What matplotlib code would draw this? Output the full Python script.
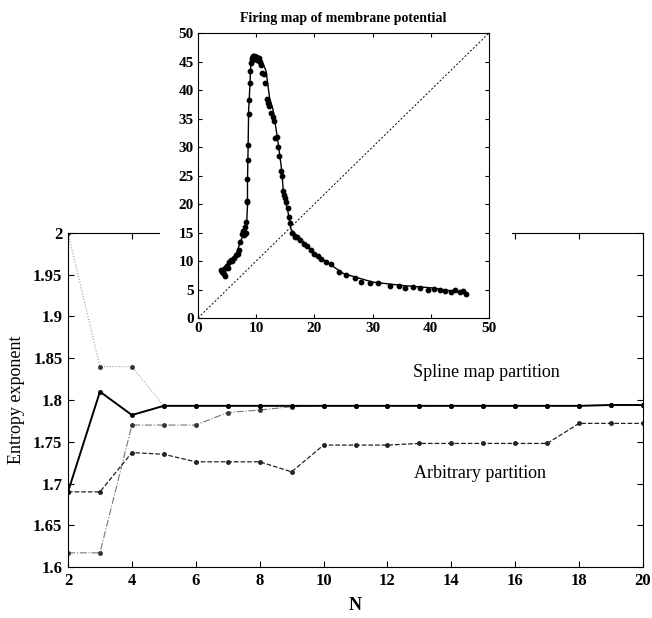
import numpy as np
import matplotlib.pyplot as plt
from matplotlib.patches import Rectangle

plt.rcParams['font.family'] = ['Liberation Serif', 'DejaVu Serif']

# main panel: entropy exponent vs N
n_values = list(range(2, 21))
spline_solid = [1.690, 1.810, 1.782, 1.793, 1.793, 1.793, 1.793, 1.793, 1.793, 1.793,
                1.793, 1.793, 1.793, 1.793, 1.793, 1.793, 1.793, 1.794, 1.794]
spline_dotted = [2.000, 1.840, 1.840, 1.793, 1.793, 1.793, 1.793, 1.793, 1.793, 1.793,
                 1.793, 1.793, 1.793, 1.793, 1.793, 1.793, 1.793, 1.794, 1.794]
spline_dashdot = [1.617, 1.617, 1.770, 1.770, 1.770, 1.785, 1.788, 1.792, 1.793, 1.793,
                  1.793, 1.793, 1.793, 1.793, 1.793, 1.793, 1.793, 1.794, 1.794]
arbitrary = [1.690, 1.690, 1.737, 1.735, 1.726, 1.726, 1.726, 1.714, 1.746, 1.746,
             1.746, 1.748, 1.748, 1.748, 1.748, 1.748, 1.772, 1.772, 1.772]
y_ticks = [1.6, 1.65, 1.7, 1.75, 1.8, 1.85, 1.9, 1.95, 2.0]
y_tick_labels = ['1.6', '1.65', '1.7', '1.75', '1.8', '1.85', '1.9', '1.95', '2']
x_ticks = list(range(2, 21, 2))

# inset: firing map, fitted curve and measured points
curve_x = [4.2, 4.9, 6.0, 6.6, 7.4, 8.0, 8.3, 8.5, 8.5, 8.6, 8.7, 8.9, 9.1, 9.5, 10.0,
           10.5, 10.9, 11.7, 12.3, 12.9, 13.6, 14.3, 14.7, 15.5, 16.0, 17.5, 20.0,
           22.0, 25.0, 30.0, 35.2, 40.0, 46.0]
curve_y = [8.2, 9.4, 10.5, 11.4, 13.7, 15.0, 15.5, 19.6, 24.0, 29.5, 36.5, 40.4, 45.2,
           46.0, 46.2, 45.9, 45.3, 43.3, 38.6, 36.5, 31.9, 26.6, 21.9, 18.4, 15.5,
           14.0, 11.4, 9.9, 7.8, 6.3, 5.7, 5.3, 4.4]
pts_x = [4.0, 4.2, 4.4, 4.5, 4.7, 4.8, 5.0, 5.2, 5.4, 5.6, 5.9, 6.2, 6.5, 6.8, 7.0,
         7.3, 7.5, 7.7, 7.9, 8.1, 8.2, 8.3, 8.4, 8.5, 8.5, 8.6, 8.6, 8.7, 8.8, 8.9,
         9.0, 9.1, 9.2, 9.3, 9.4, 9.6, 9.8, 10.0, 10.2, 10.4, 10.6, 10.8, 11.0, 11.3,
         11.5, 11.8, 12.0, 12.2, 12.5, 12.8, 13.0, 13.3, 13.6, 13.8, 14.0, 14.2, 14.4,
         14.6, 14.8, 15.0, 15.2, 15.4, 15.6, 15.8, 16.2, 16.6, 17.0, 17.6, 18.2, 18.8,
         19.4, 20.0, 20.6, 21.2, 22.0, 22.8, 24.2, 25.5, 27.0, 28.0, 29.5, 31.0, 33.0,
         34.5, 35.5, 37.0, 38.2, 39.5, 40.5, 41.6, 42.5, 43.4, 44.2, 45.0, 45.6, 46.0]
pts_y = [8.5, 8.0, 7.8, 8.6, 7.4, 8.9, 9.2, 8.7, 9.8, 10.2, 10.0, 10.6, 11.1, 11.3,
         12.0, 13.3, 14.8, 15.2, 14.6, 15.9, 16.8, 15.0, 20.3, 20.6, 24.4, 27.8, 30.3,
         35.8, 38.2, 41.2, 43.3, 44.8, 45.6, 45.3, 45.9, 46.0, 45.5, 45.8, 45.2, 45.6,
         44.9, 44.3, 43.0, 42.8, 41.3, 38.4, 37.8, 37.2, 36.0, 35.2, 34.6, 31.5, 31.8,
         30.0, 28.4, 25.8, 25.0, 22.2, 21.5, 21.0, 20.4, 19.3, 17.8, 16.6, 14.9, 14.3,
         14.2, 13.7, 13.0, 12.6, 12.0, 11.3, 10.8, 10.4, 9.9, 9.5, 8.0, 7.6, 7.0, 6.4,
         6.2, 6.1, 5.7, 5.6, 5.3, 5.5, 5.2, 5.0, 5.1, 4.9, 4.8, 4.6, 4.9, 4.5, 4.8, 4.3]

fig = plt.figure(figsize=(6.52, 6.18), dpi=100)

ax = fig.add_axes([0.1043, 0.0825, 0.8819, 0.5405])
ax.plot(n_values, spline_dotted, color='#9a9a9a', lw=0.8, ls=':', marker='o', ms=2.5,
        mfc='#333333', mec='#333333')
ax.plot(n_values, spline_dashdot, color='#777777', lw=0.8, ls='-.', marker='o', ms=2.5,
        mfc='#333333', mec='#333333')
ax.plot(n_values, arbitrary, color='#222222', lw=0.9, ls='--', marker='o', ms=2.5,
        mfc='#222222', mec='#222222')
ax.plot(n_values, spline_solid, color='black', lw=1.4, ls='-', marker='o', ms=2.5)

ax.set_xlim(2, 20)
ax.set_ylim(1.6, 2.0)
ax.set_xticks(x_ticks)
ax.set_yticks(y_ticks)
ax.set_yticklabels(y_tick_labels)
ax.tick_params(direction='in', top=True, right=True, length=4, labelsize=12, pad=4)
for lab in ax.get_xticklabels() + ax.get_yticklabels():
    lab.set_fontweight('bold')
ax.set_xlabel('N', fontsize=13, fontweight='bold')
ax.xaxis.set_label_coords(0.5, -0.09)
ax.set_ylabel('Entropy exponent', fontsize=13, labelpad=6)
ax.text(15.1, 1.833, 'Spline map partition', fontsize=13, ha='center', va='center')
ax.text(14.9, 1.712, 'Arbitrary partition', fontsize=13, ha='center', va='center')

# white patch hiding the main frame behind the inset
fig.patches.append(Rectangle((0.245, 0.442), 0.54, 0.56, transform=fig.transFigure,
                             facecolor='white', edgecolor='none', zorder=1))

ins = fig.add_axes([0.3037, 0.4854, 0.4463, 0.4612], zorder=2)
ins.plot([0, 50], [0, 50], color='black', lw=0.7, ls=(0, (2, 2)))
ins.plot(curve_x, curve_y, color='black', lw=1.0)
ins.scatter(pts_x, pts_y, s=10, color='black', zorder=3)
ins.set_xlim(0, 50)
ins.set_ylim(0, 50)
ins.set_xticks(range(0, 51, 10))
ins.set_yticks(range(0, 51, 5))
ins.tick_params(direction='in', top=True, right=True, length=3, labelsize=11, pad=3)
for lab in ins.get_xticklabels() + ins.get_yticklabels():
    lab.set_fontweight('bold')
ins.set_title('Firing map of membrane potential', fontsize=10, fontweight='bold', pad=8)

fig.savefig('out.png', dpi=100)
